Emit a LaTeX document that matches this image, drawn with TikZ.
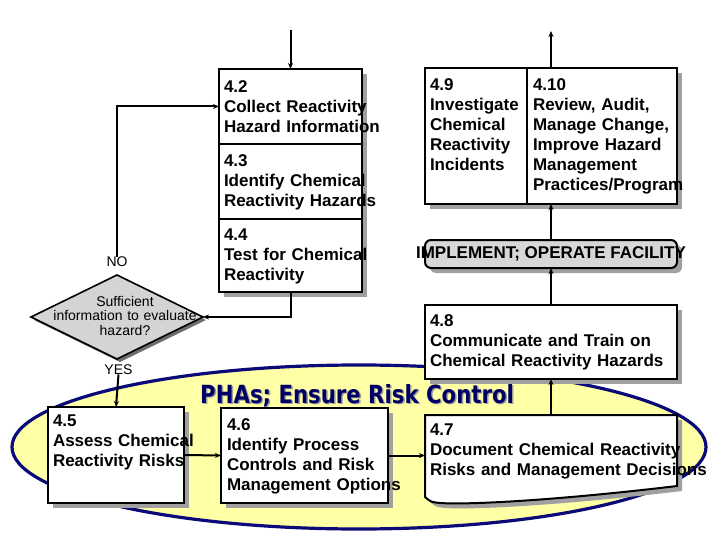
\documentclass[tikz,border=0pt]{standalone}
\usepackage{fontspec}
\setmainfont{Liberation Sans}
\newfontfamily\phafont[FakeStretch=0.85]{DejaVu Sans Bold}
\usetikzlibrary{shapes.geometric,arrows.meta,calc,shadows}
\definecolor{shadowgray}{RGB}{160,160,160}
\definecolor{diashadow}{RGB}{110,110,110}
\definecolor{navy}{RGB}{10,10,120}
\definecolor{phablue}{RGB}{0,0,100}
\definecolor{paleyellow}{RGB}{255,255,165}
\definecolor{implgray}{RGB}{215,215,215}
\definecolor{diagray}{RGB}{212,212,212}
\begin{document}
\begin{tikzpicture}[x=1pt,y=-1pt,
  boxst/.style={draw=black, line width=2pt, fill=white, inner sep=0pt, outer sep=0pt,
    drop shadow={shadow xshift=5pt, shadow yshift=-5pt, fill=shadowgray, opacity=1}},
  txt/.style={anchor=base west, inner sep=0pt, outer sep=0pt, text width=300pt, align=left,
    font=\fontsize{17}{20}\selectfont\bfseries},
  small/.style={inner sep=0pt, font=\fontsize{14}{14.2}\selectfont},
  conn/.style={line width=2pt, -{Stealth[length=6pt, width=5pt]}},
]
\useasboundingbox (0,0) rectangle (720,540);

% PHA area
\node[ellipse, draw=navy, line width=3.2pt, fill=paleyellow, minimum width=694pt, minimum height=164pt, inner sep=0pt] (area) at (359,447) {};
\node[anchor=base west, inner sep=0pt, font=\phafont\fontsize{25}{28}\selectfont, text=shadowgray] (phashadow) at (201.5,404.5) {PHAs; Ensure Risk Control};
\node[anchor=base west, inner sep=0pt, font=\phafont\fontsize{25}{28}\selectfont, text=phablue] (pha) at (200,403) {PHAs; Ensure Risk Control};

% stack
\node[boxst, minimum width=143pt, minimum height=75pt] (b42) at (290.5,106.5) {};
\node[boxst, minimum width=143pt, minimum height=75pt] (b43) at (290.5,181.5) {};
\node[boxst, minimum width=143pt, minimum height=73pt] (b44) at (290.5,255.5) {};

% right column
\node[boxst, minimum width=102pt, minimum height=136pt] (b49) at (476,136) {};
\node[boxst, minimum width=150pt, minimum height=136pt] (b410) at (602,136) {};
\node[boxst, fill=implgray, rounded corners=6pt, minimum width=252pt, minimum height=28pt] (impl) at (551,254) {};
\node[boxst, minimum width=252pt, minimum height=74pt] (b48) at (551,342) {};

% 4.7 document shape
\node[inner sep=0pt, outer sep=0pt, minimum width=252pt, minimum height=82pt] (b47) at (551,456) {};
\path[draw=black, line width=2pt, fill=white,
  drop shadow={shadow xshift=5pt, shadow yshift=-5pt, fill=shadowgray, opacity=1}]
  (b47.north west) -- (b47.north east) -- ($(b47.south east)+(0,-11)$)
  .. controls ($(b47.south east)+(-117,3)$) and ($(b47.south west)+(45,8)$) .. ($(b47.south west)+(15,6)$)
  .. controls ($(b47.south west)+(6,5)$) .. (b47.south west) -- cycle;

% bottom boxes
\node[boxst, minimum width=136pt, minimum height=96pt] (b45) at (116,455) {};
\node[boxst, minimum width=167pt, minimum height=95pt] (b46) at (304.5,455.5) {};

% decision
\node[diamond, draw=black, line width=1.6pt, fill=diagray, inner sep=0pt, outer sep=0pt,
  minimum width=172pt, minimum height=84pt,
  drop shadow={shadow xshift=3pt, shadow yshift=-3pt, fill=diashadow, opacity=1}] (dia) at (117,317) {};
\node[small, anchor=base, text width=170pt, align=center] (diatext) at (125,306.7)
  {Sufficient\\information to evaluate\\hazard?};
\node[small, anchor=base] (no) at (117,266.7) {NO};
\node[small, anchor=base] (yes) at (118.5,374) {YES};

% texts
\node[txt] (t42) at ($(b42.north west)+(5,24)$) {4.2\\Collect Reactivity\\Hazard Information};
\node[txt] (t43) at ($(b43.north west)+(5,22.7)$) {4.3\\Identify Chemical\\Reactivity Hazards};
\node[txt] (t44) at ($(b44.north west)+(5,21.7)$) {4.4\\Test for Chemical\\Reactivity};
\node[txt] (t49) at ($(b49.north west)+(5,22.7)$) {4.9\\Investigate\\Chemical\\Reactivity\\Incidents};
\node[txt] (t410) at ($(b410.north west)+(6,22.7)$) {4.10\\Review, Audit,\\Manage Change,\\Improve Hazard\\Management\\Practices/Program};
\node[inner sep=0pt, font=\fontsize{17}{20}\selectfont\bfseries] (timpl) at (impl.center) {IMPLEMENT; OPERATE FACILITY};
\node[txt] (t48) at ($(b48.north west)+(5,21.7)$) {4.8\\Communicate and Train on\\Chemical Reactivity Hazards};
\node[txt] (t47) at ($(b47.north west)+(5,20)$) {4.7\\Document Chemical Reactivity\\Risks and Management Decisions};
\node[txt] (t45) at ($(b45.north west)+(5,19.7)$) {4.5\\Assess Chemical\\Reactivity Risks};
\node[txt] (t46) at ($(b46.north west)+(6,22)$) {4.6\\Identify Process\\Controls and Risk\\Management Options};

% connectors
\coordinate (topin) at (290.5,30);
\coordinate (topout) at (551,31);
\draw[conn] (topin) -- (b42.north);
\draw[conn] (no.north) |- (b42.west);
\draw[conn] (b44.south) |- (dia.east);
\draw[conn] (yes.south) -- (b45.north);
\draw[conn] (b45.east) -- (b46.west);
\draw[conn] (b46.east) -- (b46.east -| b47.west);
\draw[conn] (b47.north) -- (b48.south);
\draw[conn] (b48.north) -- (impl.south);
\draw[conn] (impl.north) -- (impl.north |- b410.south);
\draw[conn] (b410.north -| topout) -- (topout);
\end{tikzpicture}
\end{document}
